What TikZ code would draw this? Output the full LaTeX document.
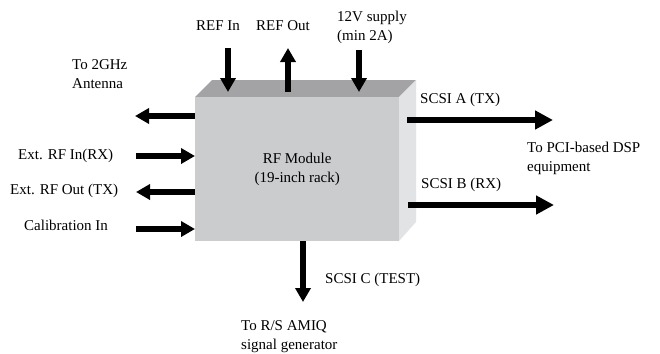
\documentclass[tikz,border=0pt]{standalone}
\usepackage{fontspec}
\setmainfont{Liberation Serif}
\usetikzlibrary{arrows.meta,calc}
\definecolor{frontgray}{HTML}{CBCCCE}
\definecolor{topgray}{HTML}{A3A3A5}
\definecolor{sidegray}{HTML}{E2E3E5}
\tikzset{
 lbl/.style={font=\fontsize{15}{19}\selectfont, inner sep=0pt, align=left},
 arr/.style={line width=5.5pt, -{Triangle[length=14pt,width=15pt]}},
 bigarr/.style={line width=6.5pt, -{Triangle[length=18pt,width=18pt]}},
}
\begin{document}
\begin{tikzpicture}[x=1pt,y=-1pt]
\useasboundingbox (0,0) rectangle (660,353);
% 3D box
\fill[topgray] (195,97) -- (212,80) -- (416,80) -- (399,97) -- cycle;
\fill[sidegray] (399,97) -- (416,80) -- (416,222) -- (399,241) -- cycle;
\node[fill=frontgray, minimum width=204pt, minimum height=144pt, inner sep=0pt, anchor=north west, lbl, align=center] (rf) at (195,97) {RF Module\\(19-inch rack)};
% labels
\node[lbl] (refin) at (218,26) {REF In};
\node[lbl] (refout) at (283,26) {REF Out};
\node[lbl, anchor=west] (sup) at (337,27) {12V supply\\(min 2A)};
\node[lbl, anchor=west] (ant) at (72,74) {To 2GHz\\Antenna};
\node[lbl, anchor=west] (rxin) at (18,156) {Ext. RF In(RX)};
\node[lbl, anchor=west] (txout) at (10,191) {Ext. RF Out (TX)};
\node[lbl, anchor=west] (cal) at (24,225) {Calibration In};
\node[lbl, anchor=west] (scsia) at (420,100) {SCSI A (TX)};
\node[lbl, anchor=west] (pci) at (527,158) {To PCI-based DSP\\equipment};
\node[lbl, anchor=west] (scsib) at (421,185) {SCSI B (RX)};
\node[lbl, anchor=west] (scsic) at (325,280) {SCSI C (TEST)};
\node[lbl, anchor=west] (amiq) at (241,337) {To R/S AMIQ\\signal generator};
% free ends
\coordinate (refinS) at (228,48);
\coordinate (refinE) at (228,92);
\coordinate (refoutS) at (288,92);
\coordinate (refoutE) at (288,48);
\coordinate (supS) at (359,50);
\coordinate (supE) at (359,92);
\coordinate (antE) at (135,116);
\coordinate (rxS) at (136,156);
\coordinate (txE) at (136,192);
\coordinate (calS) at (136,229);
\coordinate (aS) at (407,120);
\coordinate (aE) at (553,120);
\coordinate (bS) at (408,205);
\coordinate (bE) at (554,205);
\coordinate (cE) at (303,302);
% arrows
\draw[arr] (refinS) -- (refinE);
\draw[arr] (refoutS) -- (refoutE);
\draw[arr] (supS) -- (supE);
\draw[arr] (rf.west |- antE) -- (antE);
\draw[arr] (rxS) -- (rf.west |- rxS);
\draw[arr] (rf.west |- txE) -- (txE);
\draw[arr] (calS) -- (rf.west |- calS);
\draw[bigarr] (aS) -- (aE);
\draw[bigarr] (bS) -- (bE);
\draw[arr] (rf.south -| cE) -- (cE);
\end{tikzpicture}
\end{document}
